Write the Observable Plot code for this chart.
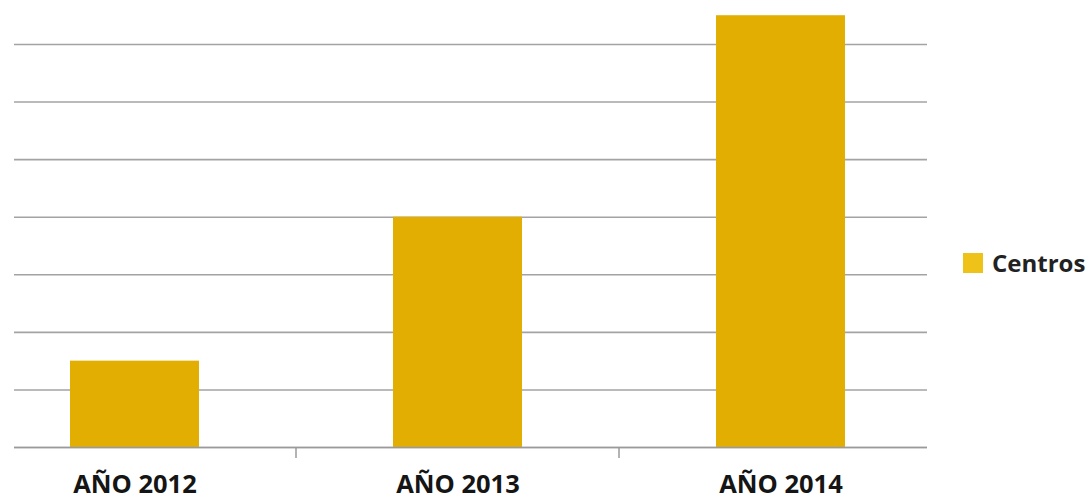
<!DOCTYPE html>
<html>
<head>
<meta charset="utf-8">
<script src="https://cdn.jsdelivr.net/npm/d3@7"></script>
<script src="https://cdn.jsdelivr.net/npm/@observablehq/plot@0.6"></script>
<style>
  html, body { margin: 0; padding: 0; background: #fff; }
  #wrap { position: relative; width: 1092px; height: 501px; }
  #legend { position: absolute; left: 963px; top: 246px; display: flex; align-items: center;
    font-family: "Open Sans", sans-serif; font-weight: 700; font-size: 24px; color: #222; }
  #legend .sw { width: 20px; height: 20px; background: #EFC21A; margin-right: 9px; }
</style>
</head>
<body>
<div id="wrap"></div>
<script>
const categories = ["AÑO 2012", "AÑO 2013", "AÑO 2014"];
const centros = [1.5, 4, 7.5];
const yTicks = [0, 1, 2, 3, 4, 5, 6, 7];
const seriesName = "Centros";

const data = categories.map((c, i) => ({ year: c, value: centros[i] }));

function boundaryTicks(index, scales, values, dimensions) {
  const x = scales.x;
  const bw = x.bandwidth();
  const y0 = scales.y(0);
  const g = d3.create("svg:g").attr("stroke", "#9a9a9a").attr("stroke-width", 1.5);
  for (let i = 1; i < categories.length; i++) {
    const px = (x(categories[i - 1]) + bw + x(categories[i])) / 2;
    g.append("line").attr("x1", px).attr("x2", px).attr("y1", y0).attr("y2", y0 + 11);
  }
  return g.node();
}

const chart = Plot.plot({
  width: 1092,
  height: 501,
  marginLeft: 14,
  marginRight: 165,
  marginTop: 44,
  marginBottom: 54,
  style: { fontFamily: "Open Sans, sans-serif", background: "#fff", color: "#111" },
  x: { domain: categories, range: [-27, 943], paddingInner: 0.6, paddingOuter: 0.3, label: null },
  y: { domain: [0, 7], label: null },
  marks: [
    Plot.ruleY(yTicks, { stroke: "#a3a3a3", strokeWidth: 1.6 }),
    Plot.barY(data, { x: "year", y: "value", fill: "#E3AE02" }),
    Plot.ruleY([0], { stroke: "#9a9a9a", strokeWidth: 1.6 }),
    boundaryTicks,
    Plot.axisX({ tickSize: 0, tickPadding: 27, fontSize: 25.5, fontWeight: 700, label: null, fill: "#151515" }),
    Plot.axisY({ ticks: [], label: null, tickSize: 0 })
  ]
});

const wrap = document.getElementById("wrap");
wrap.appendChild(chart);
const legend = document.createElement("div");
legend.id = "legend";
legend.innerHTML = `<div class="sw"></div><span>${seriesName}</span>`;
wrap.appendChild(legend);
</script>
</body>
</html>
